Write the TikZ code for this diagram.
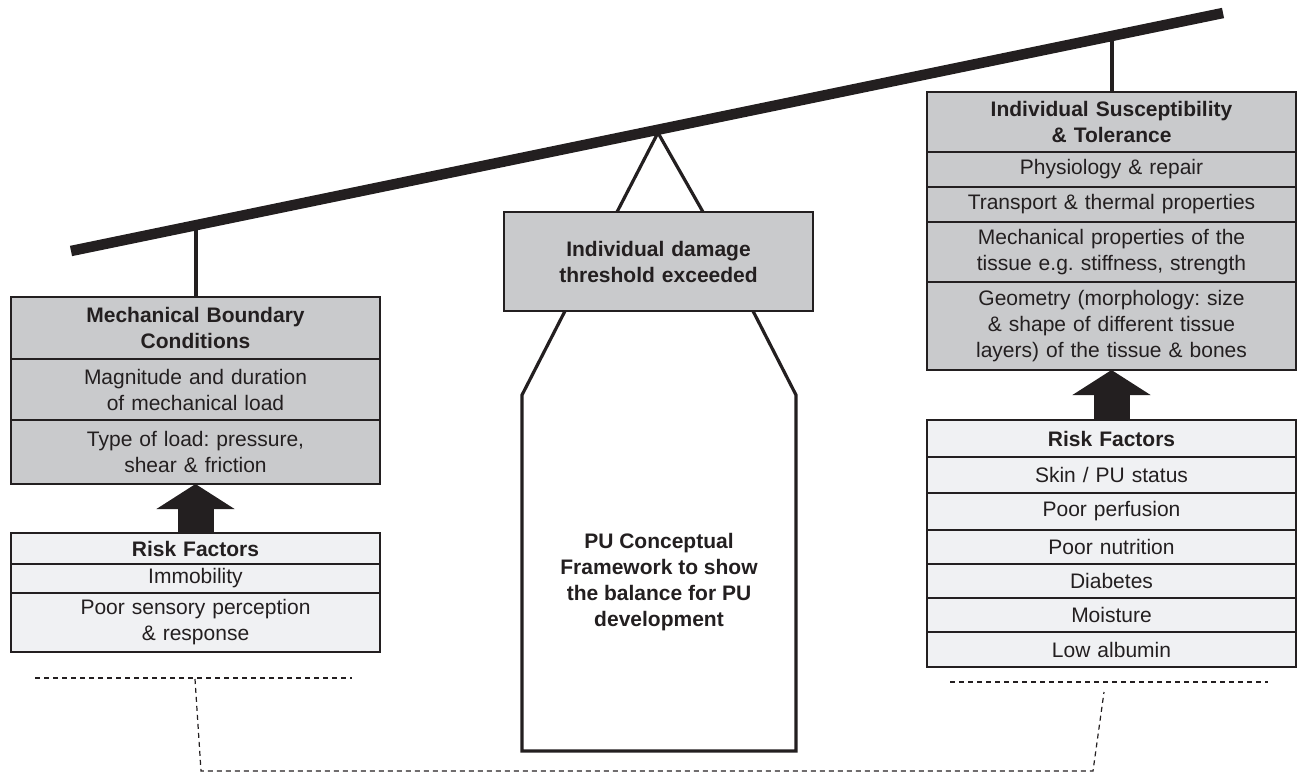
\documentclass[tikz,border=0pt]{standalone}
\usepackage{fontspec}
\setmainfont{Liberation Sans}
\usetikzlibrary{positioning}
\usetikzlibrary{calc}
\usetikzlibrary{arrows.meta}
\definecolor{ink}{RGB}{35,31,32}
\definecolor{boxgray}{RGB}{201,202,204}
\definecolor{riskgray}{RGB}{240,241,243}
\newcommand{\bodysize}{\fontsize{21}{26}\selectfont\frenchspacing}
\def\colwidth{369}
\tikzset{
boxrow/.style 2 args={
	draw=ink, line width=1.4pt, fill=#1,
	minimum width=\colwidth, minimum height=#2,
	text width=360, align=center, text=ink,
	inner sep=0pt, outer sep=0pt, font=\bodysize
},
mainrow/.style={boxrow={boxgray}{#1}},
riskrow/.style={boxrow={riskgray}{#1}},
headrow/.style={font=\bodysize\bfseries},
rope/.style={draw=ink, line width=3.2pt, line join=miter},
hanger/.style={draw=ink, line width=4pt},
beam/.style={draw=ink, line width=10.5pt},
blockarrow/.style={draw=ink, line width=36pt, -{Triangle[length=25pt, width=77pt]}},
guide/.style={draw=ink, line width=1.2pt, dash pattern=on 5pt off 4pt},
}

\begin{document}
\begin{tikzpicture}[x=1pt, y=-1pt]
\useasboundingbox (0,0) rectangle (1300,773);

%
\node[mainrow=62, headrow] (mbc) at (195.5,328) {Mechanical Boundary\\Conditions};
\node[mainrow=61, below=0pt of mbc] (mag) {Magnitude and duration\\of mechanical load};
\node[mainrow=64, below=0pt of mag] (type) {Type of load: pressure,\\shear \& friction};

\node[riskrow=31, headrow] (lrisk) at (195.5,548.5) {Risk Factors};
\node[riskrow=29, below=0pt of lrisk] (immob) {Immobility};
\node[riskrow=59, below=0pt of immob] (sens) {Poor sensory perception\\\& response};

%
\node[mainrow=60, headrow] (ist) at (1111.5,122) {Individual Susceptibility\\\& Tolerance};
\node[mainrow=35, below=0pt of ist] (phys) {Physiology \& repair};
\node[mainrow=35, below=0pt of phys] (trans) {Transport \& thermal properties};
\node[mainrow=60, below=0pt of trans] (mech) {Mechanical properties of the\\tissue e.g. stiffness, strength};
\node[mainrow=88, below=0pt of mech] (geom) {Geometry (morphology: size\\\& shape of different tissue\\layers) of the tissue \& bones};

\node[riskrow=37, headrow] (rrisk) at (1111.5,438.5) {Risk Factors};
\node[riskrow=36, below=0pt of rrisk] (skin) {Skin / PU status};
\node[riskrow=37, below=0pt of skin] (perf) {Poor perfusion};
\node[riskrow=34, below=0pt of perf] (nutr) {Poor nutrition};
\node[riskrow=34, below=0pt of nutr] (diab) {Diabetes};
\node[riskrow=34, below=0pt of diab] (moist) {Moisture};
\node[riskrow=35, below=0pt of moist] (alb) {Low albumin};

%
\draw[blockarrow] (lrisk.north) -- (type.south);
\draw[blockarrow] (rrisk.north) -- (geom.south);

%
\node[mainrow=99, headrow, minimum width=309, text width=300] (dmg) at (658.5,261.5) {Individual damage\\threshold exceeded};
\coordinate (ls) at (522,395);
\coordinate (rs) at (796,395);
\coordinate (lb) at (522,751);
\coordinate (rb) at (796,751);
\draw[rope] ($(dmg.south west)+(61,0)$) -- (ls) -- (lb) -- (rb) -- (rs) -- ($(dmg.south east)+(-60,0)$);
\node[text=ink, font=\bodysize\bfseries, align=center] (pu) at (659,582) {PU Conceptual\\Framework to show\\the balance for PU\\development};

%
\coordinate (bl) at (71,251);
\coordinate (br) at (1223,13);
\path (bl) -- coordinate[pos=0.108] (lh) coordinate[pos=0.5095] (piv) coordinate[pos=0.9032] (rh) (br);
\draw[hanger] (mbc.north) -- (mbc.north |- lh);
\draw[hanger] (ist.north) -- (ist.north |- rh);
\draw[rope] ($(dmg.north west)+(113,0)$) -- ($(piv)+(0,3)$) -- ($(dmg.north east)+(-110,0)$);
\draw[beam] (bl) -- (br);

%
\coordinate (gl1) at (35,678);
\coordinate (gl2) at (352,678);
\coordinate (gr1) at (950,682);
\coordinate (gr2) at (1268,682);
\coordinate (ga) at (195,679);
\coordinate (gb) at (201,771);
\coordinate (gc) at (1093,771);
\coordinate (gd) at (1104,692);
\draw[guide] (gl1) -- (gl2);
\draw[guide] (gr1) -- (gr2);
\draw[guide] (ga) -- (gb) -- (gc) -- (gd);
\end{tikzpicture}
\end{document}
